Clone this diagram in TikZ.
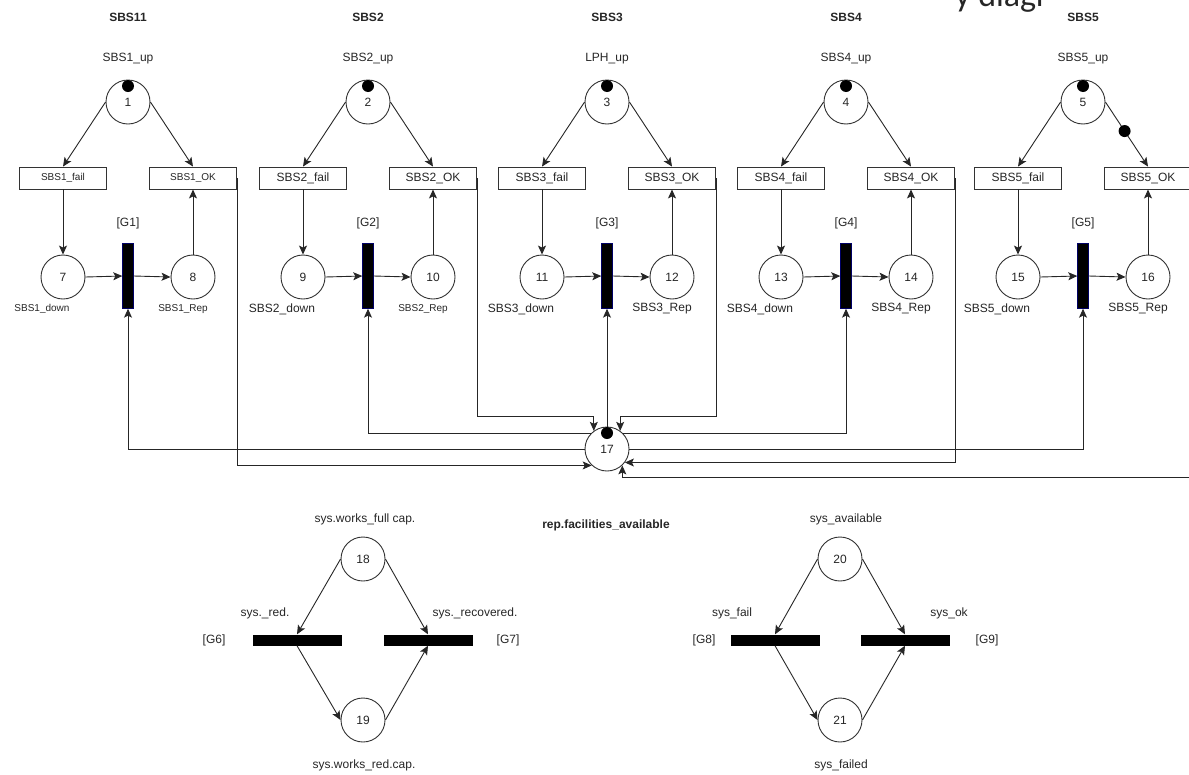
\documentclass[tikz,border=0pt]{standalone}
\usepackage{fontspec}
\setmainfont{Liberation Sans}
\newfontfamily\capfont{Carlito}
\usetikzlibrary{arrows.meta,positioning}

\begin{document}
\begin{tikzpicture}[
    x=1pt, y=-1pt,
    every node/.style={text=black!85},
    normtxt/.style={font=\fontsize{12}{14}\selectfont},
    smalltxt/.style={font=\fontsize{10}{12}\selectfont},
    title/.style={font=\bfseries\fontsize{12}{14}\selectfont},
    place/.style={circle, draw=black!80, line width=0.9pt, fill=white, minimum size=44pt, inner sep=0pt, normtxt},
    token/.style={circle, fill=black, minimum size=12pt, inner sep=0pt},
    trans/.style={draw=black!80, line width=0.9pt, fill=white, minimum width=87pt, minimum height=22pt, inner sep=0pt},
    vbar/.style={fill=black, draw=black!60!blue, minimum width=11pt, minimum height=65pt, inner sep=0pt},
    hbar/.style={fill=black, minimum width=89pt, minimum height=11pt, inner sep=0pt},
    link/.style={-{Stealth[length=9pt, width=8pt, inset=2pt]}, draw=black!85, line width=0.9pt}
]
\path[use as bounding box, clip] (0,0) rectangle (1189,774);

% cut caption at the top edge
\node[anchor=base west, font=\capfont\fontsize{34}{40}\selectfont, inner sep=0pt] (cap) at (955,6) {y diagr};

% the five subsystems
\foreach \i/\x/\ttl/\up/\bs/\rs in {1/128/SBS11/SBS1\_up/smalltxt/smalltxt,
                                   2/368/SBS2/SBS2\_up/normtxt/smalltxt,
                                   3/607/SBS3/LPH\_up/normtxt/normtxt,
                                   4/846/SBS4/SBS4\_up/normtxt/normtxt,
                                   5/1083/SBS5/SBS5\_up/normtxt/normtxt} {
    \pgfmathtruncatemacro{\dn}{5+2*\i}
    \pgfmathtruncatemacro{\rp}{6+2*\i}
    \node[title] (ttl\i) at (\x,17) {\ttl};
    \node[normtxt] (up\i) at (\x,59) {\up};
    \node[place] (p\i) at (\x,102) {\i};
    \node[token] (t\i) at (\x,86) {};
    \node[trans, \bs] (fail\i) at (\x-65,178) {SBS\i\_fail};
    \node[trans, \bs] (ok\i) at (\x+65,178) {SBS\i\_OK};
    \node[normtxt] (gl\i) at (\x,223) {[G\i]};
    \node[vbar] (g\i) at (\x,276) {};
    \node[place] (p\dn) at (\x-65,277) {\dn};
    \node[place] (p\rp) at (\x+65,277) {\rp};
    \node[\bs] (dl\i) at (\x-86,309) {SBS\i\_down};
    \node[\rs] (rl\i) at (\x+55,309) {SBS\i\_Rep};
    \draw[link] (p\i.west) -- (fail\i.north);
    \draw[link] (p\i.east) -- (ok\i.north);
    \draw[link] (fail\i.south) -- (p\dn.north);
    \draw[link] (p\rp.north) -- (ok\i.south);
    \draw[link] (p\dn.east) -- (g\i.west);
    \draw[link] (g\i.east) -- (p\rp.west);
}
\path (p5.east) -- node[token, pos=0.45] (t5b) {} (ok5.north);

% repair facilities
\node[place] (p17) at (607,449) {17};
\draw[link] (p17.west) -| (g1.south);
\draw[link] (ok1.east) |- (p17.227);
\draw[link] (p17.137) -| (g2.south);
\draw[link] (ok2.east) |- ([yshift=14pt]p17.126) -- (p17.126);
\draw[link] (p17.north) -- (g3.south);
\draw[link] (ok3.east) |- ([yshift=14pt]p17.54) -- (p17.54);
\draw[link] (p17.43) -| (g4.south);
\draw[link] (ok4.east) |- (p17.323);
\draw[link] (p17.east) -| (g5.south);
\draw[link] (ok5.east) -- ++(20,0) |- ([yshift=-12pt]p17.313) -- (p17.313);
\node[token] (t17) at (607,433) {};
\node[title] (rep) at (606,525) {rep.facilities\_available};

% system capacity
\node[place] (p18) at (363,559) {18};
\node[place] (p19) at (363,720) {19};
\node[hbar] (g6) at (297,640) {};
\node[hbar] (g7) at (428,640) {};
\node[normtxt] (l18) at (365,519) {sys.works\_full cap.};
\node[normtxt] (l19) at (364,765) {sys.works\_red.cap.};
\node[normtxt] (l6) at (265,613) {sys.\_red.};
\node[normtxt] (l7) at (475,613) {sys.\_recovered.};
\node[normtxt] (gl6) at (214,640) {[G6]};
\node[normtxt] (gl7) at (508,640) {[G7]};
\draw[link] (p18.west) -- (g6.north);
\draw[link] (g6.south) -- (p19.west);
\draw[link] (p19.east) -- (g7.south);
\draw[link] (p18.east) -- (g7.north);

% system availability
\node[place] (p20) at (840,559) {20};
\node[place] (p21) at (840,720) {21};
\node[hbar] (g8) at (775,640) {};
\node[hbar] (g9) at (905,640) {};
\node[normtxt] (l20) at (846,519) {sys\_available};
\node[normtxt] (l21) at (841,765) {sys\_failed};
\node[normtxt] (l8) at (732,613) {sys\_fail};
\node[normtxt] (l9) at (949,613) {sys\_ok};
\node[normtxt] (gl8) at (704,640) {[G8]};
\node[normtxt] (gl9) at (987,640) {[G9]};
\draw[link] (p20.west) -- (g8.north);
\draw[link] (g8.south) -- (p21.west);
\draw[link] (p21.east) -- (g9.south);
\draw[link] (p20.east) -- (g9.north);

\end{tikzpicture}
\end{document}
